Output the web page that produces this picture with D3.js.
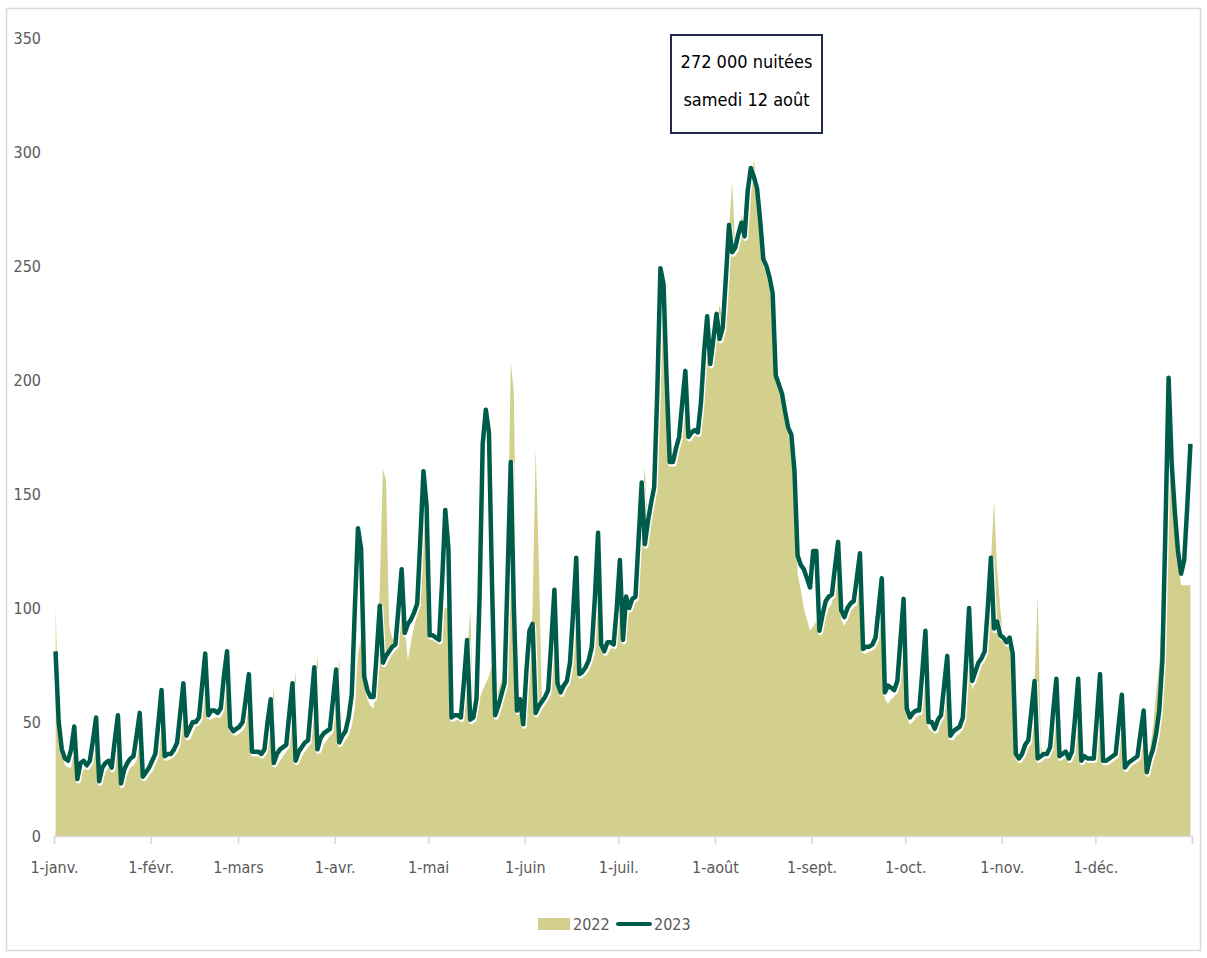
<!DOCTYPE html>
<html>
<head>
<meta charset="utf-8">
<script src="https://cdn.jsdelivr.net/npm/d3@7"></script>
<style>
  body { margin: 0; background: #fff; }
  text { font-family: "Liberation Sans Narrow", "DejaVu Sans Condensed", Roboto, sans-serif; }
</style>
</head>
<body>
<div id="chart"></div>
<script>
// nights per day (thousands), one value per day of the year
var nights2022 = [
  100,55,36,31,30,30,42, 47,27,29,30,30,33,46, 50,25,28,30,31,32,46, 52,24,27,30,31,33,48,
  53,26,27,28,31,35,55, 62,33,34,35,37,40,58, 66,42,45,48,49,52,70, 77,51,52,52,52,55,72,
  83,46,44,45,46,48,62, 70,35,35,35,36,38,52, 65,31,33,35,37,39,56, 72,32,35,37,39,41,62,
  80,36,40,42,44,45,62, 78,40,42,44,48,56,80, 87,66,60,57,56,65,110, 161,156,92,87,84,85,110,
  92,77,85,92,97,115,145, 148,98,86,85,88,98,100, 100,60,52,52,53,56,80, 99,55,56,60,64,67,70,
  75,62,64,68,75,120,208, 194,80,55,57,60,70,100, 170,120,58,58,61,64,90, 100,64,64,66,69,75,105,
  95,70,71,73,76,80,112, 105,80,80,82,83,84,105, 108,95,100,102,105,110,140, 162,135,140,148,170,225,232,
  190,162,165,170,175,185,200, 180,175,177,178,185,200,222, 212,215,225,233,225,235,265, 287,258,262,272,268,275,285,
  297,280,265,250,246,240,232, 200,195,190,183,176,170,150, 115,108,100,95,90,92,94, 88,92,96,100,102,115,124,
  95,92,96,99,100,110,120, 80,80,81,82,84,97,110, 60,58,60,61,64,83,100, 52,49,50,52,53,70,87,
  47,46,45,48,50,64,76, 42,42,44,45,47,72,96, 64,68,72,75,78,98,120, 147,117,100,86,84,84,78,
  34,33,34,37,40,52,66, 106,40,34,35,37,52,66, 33,34,35,33,35,50,66, 32,33,33,33,33,50,68,
  31,32,33,34,35,47,60, 29,30,31,32,34,44,54, 30,38,48,63,75,100,140, 170,150,135,120,110,110,110,
  110
];

var nights2023 = [
  81,50,38,34,33,38,48, 25,32,33,31,33,42,52, 24,30,32,33,30,42,53, 23,29,32,34,35,44,54,
  26,28,30,33,36,50,64, 35,36,36,38,41,54,67, 44,47,50,50,52,66,80, 53,55,55,54,56,70,81,
  48,46,47,48,50,60,71, 37,37,37,36,38,50,60, 32,36,38,39,40,54,67, 33,37,39,41,42,58,74,
  38,43,45,46,47,60,73, 41,44,46,52,62,100,135, 126,70,64,61,61,80,101, 76,79,81,83,84,100,117,
  89,93,95,98,102,130,160, 145,88,88,87,86,112,143, 126,52,53,53,52,68,86, 51,52,60,105,172,187,177,
  110,53,57,62,67,115,164, 100,55,60,49,72,90,93, 54,57,59,61,64,85,108, 67,63,66,68,76,98,122,
  71,72,74,77,83,105,133, 84,81,85,85,84,100,121, 86,105,100,104,105,130,155, 128,138,146,153,195,249,242,
  200,164,164,170,175,190,204, 175,177,178,177,190,212,228, 207,218,229,218,223,245,268, 256,258,264,269,263,283,293,
  289,284,270,253,250,245,238, 202,198,194,186,179,176,160, 123,119,117,113,109,125,125, 90,97,103,105,106,118,129,
  99,96,100,102,103,113,124, 82,83,83,84,87,100,113, 63,66,65,64,68,86,104, 56,52,54,55,55,72,90,
  50,50,47,51,53,66,79, 44,46,47,48,52,75,100, 68,72,76,78,81,100,122, 91,94,88,87,85,87,80,
  36,34,36,40,42,55,68, 34,35,36,36,39,55,69, 35,36,37,34,37,52,69, 33,35,34,34,34,52,71,
  33,33,34,35,36,49,62, 30,32,33,34,35,45,55, 28,34,38,45,55,77,136, 201,163,142,125,115,121,145,
  172
];

// first day of each month (day of year) and its label
var monthStarts = [0, 31, 59, 90, 120, 151, 181, 212, 243, 273, 304, 334];
var monthLabels = ["1-janv.", "1-févr.", "1-mars", "1-avr.", "1-mai", "1-juin",
                   "1-juil.", "1-août", "1-sept.", "1-oct.", "1-nov.", "1-déc."];
var yTicks = [0, 50, 100, 150, 200, 250, 300, 350];
var seriesNames = ["2022", "2023"];
var noteLines = ["272 000 nuitées", "samedi 12 août"];

var width = 1207, height = 958;
var areaColor = "#D3D08E", lineColor = "#005C4A", textColor = "#595959";

var svg = d3.select("#chart")
  .append("svg")
    .attr("width", width)
    .attr("height", height);

// chart frame
svg.append("rect")
  .attr("x", 6.5).attr("y", 8.5)
  .attr("width", 1194).attr("height", 942)
  .attr("fill", "none")
  .attr("stroke", "#D9D9D9")
  .attr("stroke-width", 1.5);

var x = d3.scaleLinear()
  .domain([0, 365])
  .range([54, 1192]);
var y = d3.scaleLinear()
  .domain([0, 350])
  .range([836, 38]);

// 2022 as a filled area
var area = d3.area()
  .x(function(d, i) { return x(i + 0.5); })
  .y0(y(0))
  .y1(function(d) { return y(d); });

svg.append("path")
  .datum(nights2022)
  .attr("d", area)
  .attr("fill", areaColor);

// 2023 as a line with a white shadow under it
var line = d3.line()
  .x(function(d, i) { return x(i + 0.5); })
  .y(function(d) { return y(d); });

svg.append("path")
  .datum(nights2023)
  .attr("d", line)
  .attr("transform", "translate(1,2)")
  .attr("fill", "none")
  .attr("stroke", "#fff")
  .attr("stroke-width", 5)
  .attr("stroke-linejoin", "round");

svg.append("path")
  .datum(nights2023)
  .attr("d", line)
  .attr("fill", "none")
  .attr("stroke", lineColor)
  .attr("stroke-width", 4.5)
  .attr("stroke-linejoin", "round");

// x axis
var xAxis = svg.append("g")
  .attr("transform", "translate(0," + y(0) + ")")
  .call(d3.axisBottom(x)
    .tickValues(monthStarts.concat([365]))
    .tickSize(8)
    .tickFormat(function(d) {
      var k = monthStarts.indexOf(d);
      return k < 0 ? "" : monthLabels[k];
    }));
xAxis.select(".domain").attr("stroke", "#D9D9D9").attr("stroke-width", 1.5);
xAxis.selectAll(".tick line").attr("stroke", "#D9D9D9").attr("stroke-width", 1.5);
xAxis.selectAll(".tick text")
  .attr("y", 26)
  .attr("fill", textColor)
  .style("font-size", "16px");

// y axis labels only
var yAxis = svg.append("g")
  .attr("transform", "translate(41,0)")
  .call(d3.axisLeft(y).tickValues(yTicks).tickSize(0).tickPadding(0));
yAxis.select(".domain").remove();
yAxis.selectAll(".tick text")
  .attr("fill", textColor)
  .style("font-size", "16px");

// annotation box
svg.append("rect")
  .attr("x", 671).attr("y", 35)
  .attr("width", 151).attr("height", 98)
  .attr("fill", "#fff")
  .attr("stroke", "#1F2A4E")
  .attr("stroke-width", 2);

svg.selectAll(".note")
  .data(noteLines)
  .enter()
  .append("text")
    .attr("class", "note")
    .attr("x", 746.5)
    .attr("y", function(d, i) { return 68 + i * 38; })
    .attr("text-anchor", "middle")
    .attr("fill", "#000")
    .style("font-size", "18px")
    .text(function(d) { return d; });

// legend
var legend = svg.append("g");
legend.append("rect")
  .attr("x", 538).attr("y", 918)
  .attr("width", 32).attr("height", 12)
  .attr("fill", areaColor);
legend.append("text")
  .attr("x", 573).attr("y", 930)
  .attr("fill", textColor)
  .style("font-size", "16px")
  .text(seriesNames[0]);
legend.append("line")
  .attr("x1", 618).attr("x2", 650)
  .attr("y1", 924).attr("y2", 924)
  .attr("stroke", lineColor)
  .attr("stroke-width", 4)
  .attr("stroke-linecap", "round");
legend.append("text")
  .attr("x", 654).attr("y", 930)
  .attr("fill", textColor)
  .style("font-size", "16px")
  .text(seriesNames[1]);
</script>
</body>
</html>
